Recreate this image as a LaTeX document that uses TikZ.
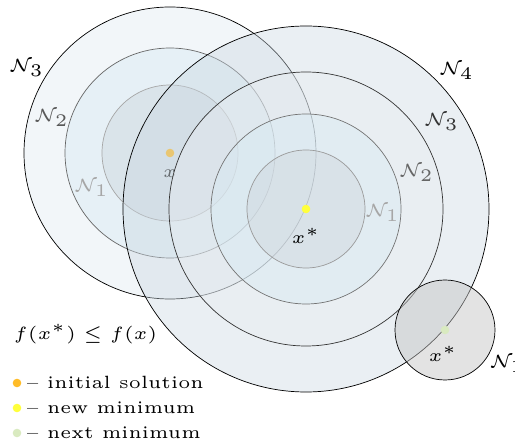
\documentclass[tikz,border=0pt]{standalone}
\usepackage{tikz}
\definecolor{lthree}{RGB}{242,246,249}
\definecolor{ltwo}{RGB}{230,240,246}
\definecolor{lone}{RGB}{218,228,234}
\definecolor{rfour}{RGB}{202,215,225}
\definecolor{rthree}{RGB}{231,236,240}
\definecolor{rtwo}{RGB}{215,235,245}
\definecolor{rone}{RGB}{206,212,218}
\definecolor{initdot}{RGB}{255,188,40}
\definecolor{newdot}{RGB}{255,255,60}
\definecolor{nextdot}{RGB}{217,234,192}

\begin{document}
\begin{tikzpicture}[x=1pt,y=-1pt,font=\tiny,
  lbl/.style={scale=3.55,inner sep=0pt},
  ring/.style={line width=.7pt},
  dot/.style={radius=4.3}]
\useasboundingbox (0,0) rectangle (515,446);
% neighbourhoods of the initial solution
\foreach \r/\f/\d in {146/lthree/black,105/ltwo/black!60,68/lone/black!35}{
  \filldraw[ring,fill=\f,draw=\d] (170,153) circle[radius=\r];}
\fill[initdot] (170,153) circle[dot];
\node[lbl,text=black] (lNthree) at (27,68) {$\mathcal{N}_3$};
\node[lbl,text=black!65] (lNtwo) at (52,118) {$\mathcal{N}_2$};
\node[lbl,text=black!35] (lNone) at (92,188) {$\mathcal{N}_1$};
\node[lbl,text=black!85] (xlab) at (170,174) {$x$};
% neighbourhoods of the new minimum
\foreach \r/\f/\d in {183/rfour/black,137/rthree/black!80,95/rtwo/black!55,59/rone/black!40}{
  \filldraw[ring,fill=\f,fill opacity=.4,draw=\d] (306,209) circle[radius=\r];}
\fill[newdot] (306,209) circle[dot];
\node[lbl,text=black] (rNfour) at (457,71) {$\mathcal{N}_4$};
\node[lbl,text=black!80] (rNthree) at (442,122) {$\mathcal{N}_3$};
\node[lbl,text=black!60] (rNtwo) at (417,173) {$\mathcal{N}_2$};
\node[lbl,text=black!35] (rNone) at (383,213) {$\mathcal{N}_1$};
\node[lbl,text=black] (xstar) at (306,236) {$x^*$};
% next step
\filldraw[ring,fill=black!23,fill opacity=.48,draw=black] (445,330) circle[radius=50];
\fill[nextdot] (445,330) circle[dot];
\node[lbl,text=black] (xnext) at (443,354) {$x^*$};
\node[lbl,text=black,anchor=west] (sNone) at (490,364) {$\mathcal{N}_1$};
% criterion and legend
\node[lbl,anchor=base west] (crit) at (13,340) {$f(x^*) \leq f(x)$};
\fill[initdot] (17,383) circle[dot];
\fill[newdot] (17,408) circle[dot];
\fill[nextdot] (17,433) circle[dot];
\node[lbl,anchor=base west] (leginit) at (26,389) {-- initial solution};
\node[lbl,anchor=base west] (legnew) at (26,414) {-- new minimum};
\node[lbl,anchor=base west] (legnext) at (26,439) {-- next minimum};
\end{tikzpicture}
\end{document}
